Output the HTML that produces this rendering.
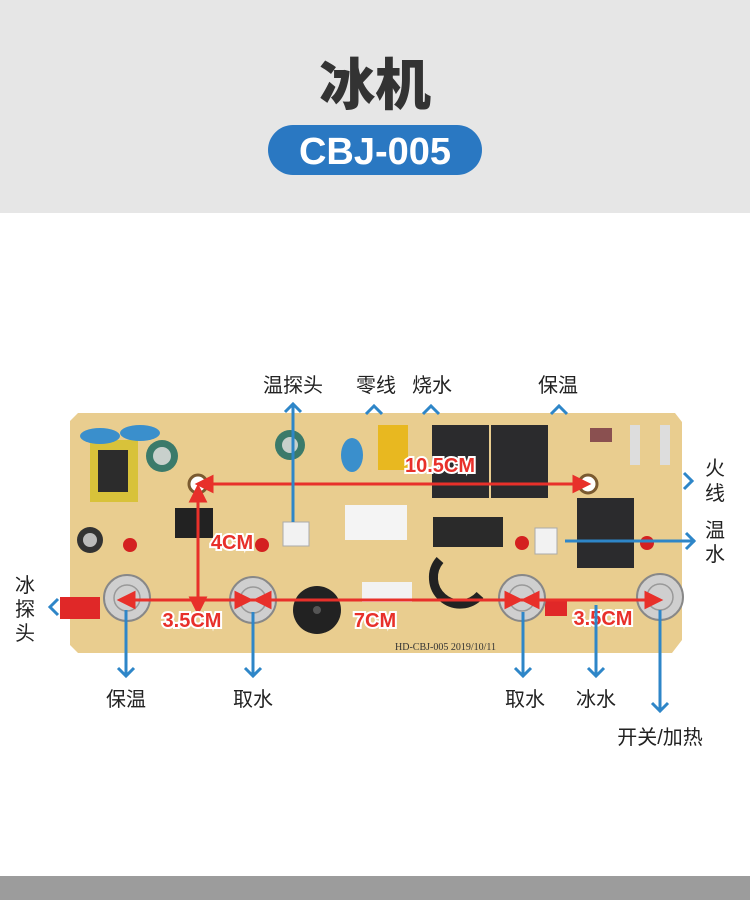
<!DOCTYPE html>
<html><head><meta charset="utf-8"><style>
body{margin:0;width:750px;height:900px;overflow:hidden;background:#fff;font-family:"Liberation Sans","Noto Sans CJK SC",sans-serif}
</style></head><body>
<svg width="750" height="900" xmlns="http://www.w3.org/2000/svg" font-family="Liberation Sans, Noto Sans CJK SC, sans-serif">
<rect x="0" y="0" width="750" height="213" fill="#e6e6e6"/>
<text x="375" y="105" font-size="56" font-weight="900" fill="#333" text-anchor="middle">冰机</text>
<rect x="268" y="125" width="214" height="50" rx="25" fill="#2a78c2"/>
<text x="375" y="164" font-size="38" font-weight="bold" fill="#fff" text-anchor="middle">CBJ-005</text>
<rect x="0" y="876" width="750" height="24" fill="#9c9c9c"/>
<path d="M78 413 H675 L682 422 V640 L672 653 H78 L70 645 V421 Z" fill="#e9cd8f"/>
<rect x="90" y="440" width="48" height="62" fill="#d8c23a"/><rect x="98" y="450" width="30" height="42" fill="#2c2c2c"/>
<circle cx="162" cy="456" r="16" fill="#3b7a6a"/><circle cx="162" cy="456" r="9" fill="#c8d0cc"/>
<ellipse cx="100" cy="436" rx="20" ry="8" fill="#3a8fcc"/><ellipse cx="140" cy="433" rx="20" ry="8" fill="#3a8fcc"/>
<circle cx="290" cy="445" r="15" fill="#3b7a6a"/><circle cx="290" cy="445" r="8" fill="#c8d0cc"/>
<ellipse cx="352" cy="455" rx="11" ry="17" fill="#3a8fcc"/>
<rect x="378" y="425" width="30" height="45" fill="#e8b820"/>
<rect x="175" y="508" width="38" height="30" fill="#222"/>
<circle cx="90" cy="540" r="13" fill="#333"/><circle cx="90" cy="540" r="7" fill="#bbb"/>
<circle cx="130" cy="545" r="7" fill="#d42020"/><circle cx="262" cy="545" r="7" fill="#d42020"/><circle cx="522" cy="543" r="7" fill="#d42020"/><circle cx="647" cy="543" r="7" fill="#d42020"/>
<rect x="283" y="522" width="26" height="24" fill="#f2f2f2" stroke="#aaa"/>
<rect x="535" y="528" width="22" height="26" fill="#f2f2f2" stroke="#aaa"/>
<rect x="345" y="505" width="62" height="35" fill="#f4f4f4"/>
<rect x="433" y="517" width="70" height="30" fill="#2a2a2a"/>
<rect x="432" y="425" width="57" height="73" fill="#2b2b2d"/><rect x="491" y="425" width="57" height="73" fill="#2b2b2d"/>
<rect x="577" y="498" width="57" height="70" fill="#2b2b2d"/>
<rect x="590" y="428" width="22" height="14" fill="#8a5050"/>
<rect x="630" y="425" width="10" height="40" fill="#ddd"/><rect x="660" y="425" width="10" height="40" fill="#ddd"/>
<circle cx="317" cy="610" r="24" fill="#222"/><circle cx="317" cy="610" r="4" fill="#555"/>
<rect x="362" y="582" width="50" height="20" fill="#f2f2f2"/>
<path d="M440 560 a25 25 0 1 0 40 35" stroke="#222" stroke-width="9" fill="none"/>
<rect x="60" y="597" width="40" height="22" fill="#e02828"/>
<rect x="545" y="600" width="22" height="16" fill="#e02828"/>
<g fill="#cfcfcf" stroke="#888" stroke-width="2">
<circle cx="127" cy="598" r="23"/><circle cx="253" cy="600" r="23"/><circle cx="522" cy="598" r="23"/><circle cx="660" cy="597" r="23"/></g>
<g fill="none" stroke="#999" stroke-width="1.5">
<circle cx="127" cy="598" r="13"/><circle cx="253" cy="600" r="13"/><circle cx="522" cy="598" r="13"/><circle cx="660" cy="597" r="13"/></g>
<g fill="#fff" stroke="#7a5a30" stroke-width="3"><circle cx="198" cy="484" r="9"/><circle cx="588" cy="484" r="9"/></g>
<text x="395" y="650" font-size="10" fill="#333" font-family="Liberation Serif, serif">HD-CBJ-005 2019/10/11</text>
<g stroke="#e8302a" stroke-width="3" fill="#e8302a">
<line x1="205" y1="484" x2="578" y2="484"/><polygon points="198,484 212,477 212,491"/><polygon points="588,484 574,477 574,491"/>
<line x1="198" y1="495" x2="198" y2="605"/><polygon points="198,487 191,501 205,501"/><polygon points="198,612 191,598 205,598"/>
<line x1="128" y1="600" x2="656" y2="600"/>
<polygon points="120,600 134,593 134,607"/><polygon points="250,600 236,593 236,607"/><polygon points="256,600 270,593 270,607"/><polygon points="520,600 506,593 506,607"/><polygon points="524,600 538,593 538,607"/><polygon points="660,600 646,593 646,607"/>
</g>
<g font-size="20" font-weight="bold" fill="#e8302a" stroke="#fff" stroke-width="4" paint-order="stroke" text-anchor="middle">
<text x="440" y="472">10.5CM</text><text x="232" y="549">4CM</text><text x="192" y="627">3.5CM</text><text x="375" y="627">7CM</text><text x="603" y="625">3.5CM</text></g>
<g stroke="#2e86c8" stroke-width="3" fill="none">
<line x1="293" y1="405" x2="293" y2="522"/><polyline points="285,412 293,404 301,412"/>
<polyline points="366,414 374,406 382,414"/><polyline points="423,414 431,406 439,414"/><polyline points="551,414 559,406 567,414"/>
<polyline points="684,473 692,481 684,489"/>
<line x1="565" y1="541" x2="695" y2="541"/><polyline points="686,533 694,541 686,549"/>
<polyline points="58,599 50,607 58,615"/>
<line x1="126" y1="610" x2="126" y2="675"/><polyline points="118,668 126,676 134,668"/>
<line x1="253" y1="612" x2="253" y2="675"/><polyline points="245,668 253,676 261,668"/>
<line x1="523" y1="612" x2="523" y2="675"/><polyline points="515,668 523,676 531,668"/>
<line x1="596" y1="605" x2="596" y2="675"/><polyline points="588,668 596,676 604,668"/>
<line x1="660" y1="610" x2="660" y2="710"/><polyline points="652,703 660,711 668,703"/>
</g>
<g font-size="20" fill="#222" text-anchor="middle">
<text x="293" y="392">温探头</text><text x="376" y="392">零线</text><text x="432" y="392">烧水</text><text x="558" y="392">保温</text>
<text x="715" y="475">火</text><text x="715" y="500">线</text><text x="715" y="537">温</text><text x="715" y="561">水</text>
<text x="25" y="592">冰</text><text x="25" y="616">探</text><text x="25" y="640">头</text>
<text x="126" y="706">保温</text><text x="253" y="706">取水</text><text x="525" y="706">取水</text><text x="596" y="706">冰水</text><text x="660" y="744">开关/加热</text>
</g>
</svg>
</body></html>
